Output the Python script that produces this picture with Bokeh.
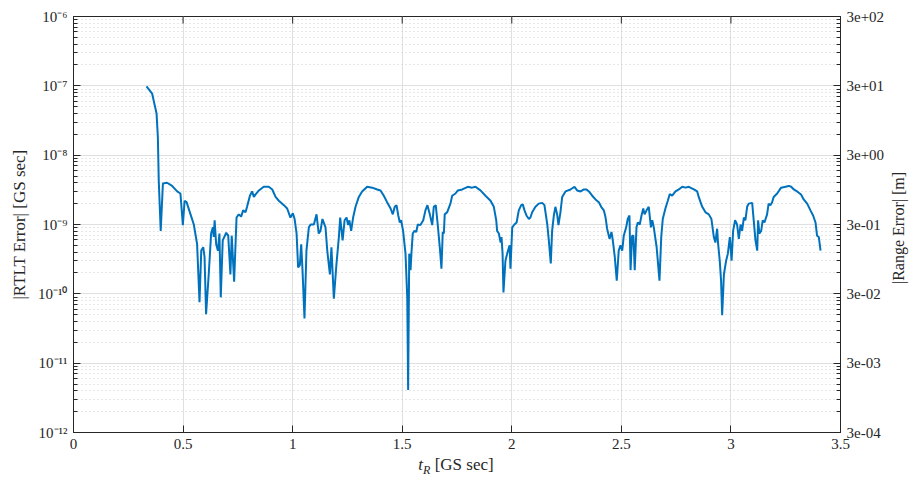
import math
from bokeh.plotting import figure
from bokeh.layouts import column, row
from bokeh.models import (FixedTicker, LogAxis, LogScale, Range1d, Div)
from bokeh.embed import file_html
from bokeh.resources import INLINE

# ---- data ----
t_R = [0.333, 0.359, 0.379, 0.385, 0.389, 0.398, 0.408, 0.427, 0.450, 0.473, 0.488, 0.499,
       0.507, 0.516, 0.534, 0.549, 0.564, 0.575, 0.583, 0.592, 0.598, 0.605, 0.617, 0.628,
       0.636, 0.640, 0.644, 0.651, 0.659, 0.666, 0.672, 0.681, 0.697, 0.706, 0.716, 0.722,
       0.733, 0.744, 0.754, 0.765, 0.774, 0.785, 0.792, 0.805, 0.815, 0.823, 0.830, 0.846,
       0.868, 0.891, 0.907, 0.922, 0.937, 0.960, 0.975, 0.990, 1.001, 1.009, 1.018, 1.025,
       1.033, 1.039, 1.045, 1.054, 1.063, 1.074, 1.082, 1.097, 1.109, 1.119, 1.127, 1.136,
       1.150, 1.158, 1.170, 1.177, 1.188, 1.200, 1.211, 1.217, 1.228, 1.237, 1.246, 1.253,
       1.259, 1.267, 1.276, 1.287, 1.302, 1.317, 1.340, 1.363, 1.386, 1.401, 1.416, 1.431,
       1.447, 1.457, 1.466, 1.474, 1.482, 1.489, 1.495, 1.504, 1.515, 1.523, 1.527, 1.532,
       1.538, 1.542, 1.548, 1.556, 1.564, 1.571, 1.583, 1.596, 1.606, 1.615, 1.626, 1.637,
       1.644, 1.653, 1.662, 1.672, 1.679, 1.685, 1.690, 1.694, 1.705, 1.720, 1.728, 1.743,
       1.754, 1.774, 1.799, 1.819, 1.834, 1.857, 1.880, 1.903, 1.918, 1.929, 1.933, 1.941,
       1.949, 1.953, 1.958, 1.962, 1.971, 1.979, 1.990, 1.994, 2.002, 2.012, 2.022, 2.032,
       2.043, 2.050, 2.058, 2.067, 2.078, 2.085, 2.093, 2.108, 2.123, 2.139, 2.149, 2.162,
       2.169, 2.178, 2.184, 2.192, 2.199, 2.207, 2.213, 2.222, 2.230, 2.245, 2.268, 2.286,
       2.298, 2.314, 2.329, 2.341, 2.352, 2.367, 2.382, 2.397, 2.408, 2.420, 2.428, 2.435,
       2.446, 2.455, 2.461, 2.470, 2.479, 2.488, 2.496, 2.504, 2.511, 2.522, 2.529, 2.537,
       2.542, 2.549, 2.555, 2.561, 2.569, 2.575, 2.584, 2.592, 2.600, 2.606, 2.615, 2.625,
       2.635, 2.641, 2.648, 2.661, 2.674, 2.682, 2.689, 2.701, 2.712, 2.721, 2.732, 2.747,
       2.762, 2.778, 2.793, 2.808, 2.831, 2.846, 2.853, 2.869, 2.884, 2.899, 2.911, 2.922,
       2.929, 2.937, 2.941, 2.949, 2.955, 2.960, 2.968, 2.978, 2.986, 2.995, 3.003, 3.010,
       3.019, 3.028, 3.036, 3.044, 3.051, 3.059, 3.066, 3.074, 3.081, 3.097, 3.104, 3.112,
       3.120, 3.124, 3.130, 3.138, 3.145, 3.153, 3.165, 3.172, 3.180, 3.188, 3.195, 3.211,
       3.229, 3.249, 3.264, 3.275, 3.287, 3.302, 3.320, 3.332, 3.348, 3.363, 3.375, 3.386,
       3.393, 3.401, 3.409]

rtlt_error = [9.8e-8, 7.7e-8, 4.0e-8, 1.8e-8, 4.3e-9, 8.1e-10, 3.9e-9, 4.0e-9, 3.6e-9, 3.0e-9, 2.8e-9, 9.8e-10,
              2.2e-9, 2.1e-9, 1.4e-9, 1.0e-9, 5.2e-10, 7.6e-11, 4.2e-10, 4.7e-10, 3.4e-10, 5.1e-11, 1.9e-10, 7.4e-10,
              9.1e-10, 6.6e-10, 1.15e-9, 5.2e-10, 4.2e-10, 7.4e-10, 8.9e-11, 5.9e-10, 7.6e-10, 6.9e-10, 1.9e-10, 6.9e-10,
              1.5e-10, 1.26e-9, 1.4e-9, 1.3e-9, 1.6e-9, 1.5e-9, 1.8e-9, 2.6e-9, 3.0e-9, 2.5e-9, 2.7e-9, 3.1e-9,
              3.5e-9, 3.5e-9, 3.2e-9, 2.5e-9, 2.2e-9, 1.9e-9, 1.7e-9, 1.26e-9, 1.45e-9, 1.2e-9, 7.4e-10, 2.4e-10,
              2.6e-10, 5.2e-10, 2.2e-10, 4.4e-11, 4.2e-10, 9.1e-10, 1.0e-9, 1.0e-9, 1.4e-9, 7.4e-10, 8.1e-10, 1.2e-9,
              9.1e-10, 4.2e-10, 1.9e-10, 4.7e-10, 8.5e-11, 2.7e-10, 6.6e-10, 1.26e-9, 5.9e-10, 1.15e-9, 1.26e-9, 9.8e-10,
              1.15e-9, 8.1e-10, 1.26e-9, 1.8e-9, 2.5e-9, 3.0e-9, 3.5e-9, 3.4e-9, 3.2e-9, 3.1e-9, 2.6e-9, 2.1e-9,
              1.7e-9, 1.4e-9, 1.8e-9, 1.9e-9, 1.35e-9, 1.07e-9, 1.15e-9, 8.1e-10, 3.8e-10, 8.9e-11, 4.1e-12, 3.8e-10,
              2.2e-10, 3.8e-10, 7.4e-10, 8.1e-10, 7.8e-10, 1.0e-9, 9.8e-10, 1.15e-9, 1.6e-9, 1.9e-9, 1.4e-9, 9.8e-10,
              1.8e-9, 1.9e-9, 1.0e-9, 4.5e-10, 2.3e-10, 7.8e-10, 7.4e-10, 1.4e-9, 1.5e-9, 2.0e-9, 2.6e-9, 2.8e-9,
              3.1e-9, 3.2e-9, 3.5e-9, 3.4e-9, 3.5e-9, 3.1e-9, 2.6e-9, 2.2e-9, 1.8e-9, 1.15e-9, 8.1e-10, 7.4e-10,
              5.5e-10, 6.6e-10, 3.8e-10, 1.05e-10, 3.0e-10, 3.8e-10, 5.0e-10, 2.3e-10, 9.1e-10, 1.0e-9, 1.07e-9, 1.6e-9,
              1.9e-9, 1.95e-9, 1.6e-9, 1.35e-9, 1.2e-9, 1.26e-9, 1.5e-9, 1.8e-9, 2.0e-9, 2.05e-9, 1.9e-9, 1.0e-9,
              5.9e-10, 2.75e-10, 8.1e-10, 1.35e-9, 1.8e-9, 1.4e-9, 9.8e-10, 1.5e-9, 2.5e-9, 3.0e-9, 3.2e-9, 3.5e-9,
              3.1e-9, 3.0e-9, 3.2e-9, 3.2e-9, 3.0e-9, 2.6e-9, 2.3e-9, 2.1e-9, 1.8e-9, 1.6e-9, 1.26e-9, 8.7e-10,
              6.2e-10, 7.8e-10, 5.9e-10, 3.4e-10, 1.55e-10, 4.2e-10, 5.0e-10, 4.2e-10, 6.9e-10, 9.1e-10, 1.2e-9, 1.35e-9,
              2.2e-10, 6.9e-10, 6.9e-10, 2.2e-10, 9.1e-10, 1.07e-9, 1.0e-9, 1.35e-9, 1.7e-9, 1.4e-9, 1.6e-9, 1.8e-9,
              9.1e-10, 1.15e-9, 9.1e-10, 4.7e-10, 1.55e-10, 6.6e-10, 1.2e-9, 1.7e-9, 2.2e-9, 2.75e-9, 2.6e-9, 3.0e-9,
              3.2e-9, 3.5e-9, 3.4e-9, 3.5e-9, 3.2e-9, 3.0e-9, 2.5e-9, 1.8e-9, 1.5e-9, 1.4e-9, 1.2e-9, 6.6e-10,
              5.5e-10, 8.7e-10, 5.5e-10, 3.0e-10, 1.55e-10, 4.9e-11, 1.9e-10, 3.0e-10, 3.8e-10, 6.6e-10, 3.0e-10, 8.1e-10,
              1.15e-9, 1.0e-9, 6.2e-10, 1.0e-9, 8.1e-10, 1.26e-9, 1.15e-9, 1.8e-9, 2.0e-9, 2.05e-9, 1.15e-9, 5.9e-10,
              4.2e-10, 1.15e-9, 7.4e-10, 8.1e-10, 1.15e-9, 1.07e-9, 1.4e-9, 2.0e-9, 1.9e-9, 2.1e-9, 2.5e-9, 2.8e-9,
              3.4e-9, 3.5e-9, 3.6e-9, 3.5e-9, 3.2e-9, 3.0e-9, 2.7e-9, 2.3e-9, 2.0e-9, 1.6e-9, 1.35e-9, 1.07e-9,
              6.9e-10, 6.6e-10, 4.2e-10]

x_ticks = [0, 0.5, 1, 1.5, 2, 2.5, 3, 3.5]
x_tick_labels = ["0", "0.5", "1", "1.5", "2", "2.5", "3", "3.5"]
y_ticks = [1e-12, 1e-11, 1e-10, 1e-9, 1e-8, 1e-7, 1e-6]
y_tick_labels = ["10⁻¹²", "10⁻¹¹", "10⁻¹⁰", "10⁻⁹", "10⁻⁸", "10⁻⁷", "10⁻⁶"]
range_ticks = [3e-4, 3e-3, 3e-2, 3e-1, 3e0, 3e1, 3e2]
range_tick_labels = ["3e-04", "3e-03", "3e-02", "3e-01", "3e+00", "3e+01", "3e+02"]
range_factor = 3e8  # m per GS sec (right axis scale)

FONT = "Liberation Serif"
AX = "#262626"

y_minor = [k * d for d in y_ticks[:-1] for k in range(2, 10)]
r_minor = [m * range_factor for m in y_minor]

FIG_H = 16 + 416 + 24
FIG_W = 73 + 767 + 46

p = figure(frame_width=767, frame_height=416,
           x_range=(0, 3.5), y_range=(1e-12, 1e-6), y_axis_type="log",
           output_backend="svg", toolbar_location=None,
           min_border_left=73, min_border_top=16, min_border_bottom=24, min_border_right=46)
p.background_fill_color = "white"
p.outline_line_color = AX
p.outline_line_width = 1

p.extra_y_ranges = {"rng": Range1d(range_ticks[0], range_ticks[-1])}
p.extra_y_scales = {"rng": LogScale()}

# x axis
xa = p.xaxis[0]
xa.ticker = FixedTicker(ticks=x_ticks, minor_ticks=[])
xa.major_label_overrides = {t: l for t, l in zip(x_ticks, x_tick_labels)}
xa.axis_label = None

# left axis
ya = p.yaxis[0]
ya.ticker = FixedTicker(ticks=y_ticks, minor_ticks=y_minor)
ya.major_label_overrides = {t: l for t, l in zip(y_ticks, y_tick_labels)}
ya.axis_label = "|RTLT Error| [GS sec]"

# right axis (its title is drawn beside the figure so it reads bottom-to-top)
ra = LogAxis(y_range_name="rng",
             ticker=FixedTicker(ticks=range_ticks, minor_ticks=r_minor))
ra.major_label_overrides = {t: l for t, l in zip(range_ticks, range_tick_labels)}
p.add_layout(ra, "right")

for ax in [xa, ya, ra]:
    ax.axis_line_color = AX
    ax.major_tick_line_color = AX
    ax.minor_tick_line_color = AX
    ax.major_tick_in = 7
    ax.major_tick_out = 0
    ax.minor_tick_in = 4
    ax.minor_tick_out = 0
    ax.major_label_text_font = FONT
    ax.major_label_text_color = AX
    ax.major_label_text_font_size = "15px"
    ax.major_label_standoff = 6
    ax.axis_label_text_font = FONT
    ax.axis_label_text_font_size = "17px"
    ax.axis_label_text_font_style = "normal"
    ax.axis_label_text_color = AX
    ax.axis_label_standoff = 6

# grids
p.xgrid.ticker = FixedTicker(ticks=x_ticks, minor_ticks=[])
p.xgrid.grid_line_color = "#e0e0e0"
p.ygrid.ticker = FixedTicker(ticks=y_ticks, minor_ticks=y_minor)
p.ygrid.grid_line_color = "#e0e0e0"
p.ygrid.minor_grid_line_color = "#cfcfcf"
p.ygrid.minor_grid_line_dash = "1 3"

# mirrored x ticks along the top edge (half of each dash is clipped by the frame)
p.scatter(x_ticks, [y_ticks[-1]] * len(x_ticks), marker="dash", angle=math.pi / 2,
          size=14, line_color=AX, line_width=1)

p.line(t_R, rtlt_error, line_color="#0072BD", line_width=2)

rlabel = Div(
    text=('<div style="position:relative;width:24px;height:%dpx;">'
          '<div style="position:absolute;left:12px;top:228px;transform:translate(-50%%,-50%%) rotate(-90deg);'
          'white-space:nowrap;font-family:\'Liberation Serif\';font-size:16px;line-height:16px;color:#262626;">'
          '|Range Error| [m]</div></div>') % FIG_H,
    width=910 - FIG_W, height=FIG_H, margin=0)

xlabel = Div(
    text=('<div style="width:910px;box-sizing:border-box;text-align:center;padding-left:2px;'
          'font-family:\'Liberation Serif\';font-size:17px;line-height:18px;color:#262626;">'
          '<i>t</i><sub style="font-size:12px;font-style:italic;line-height:0;">R</sub>'
          '&nbsp;[GS sec]</div>'),
    width=910, height=478 - FIG_H, margin=0)

layout = column(row(p, rlabel, spacing=0), xlabel, spacing=0)
open("out.html", "w").write(file_html(layout, INLINE))
